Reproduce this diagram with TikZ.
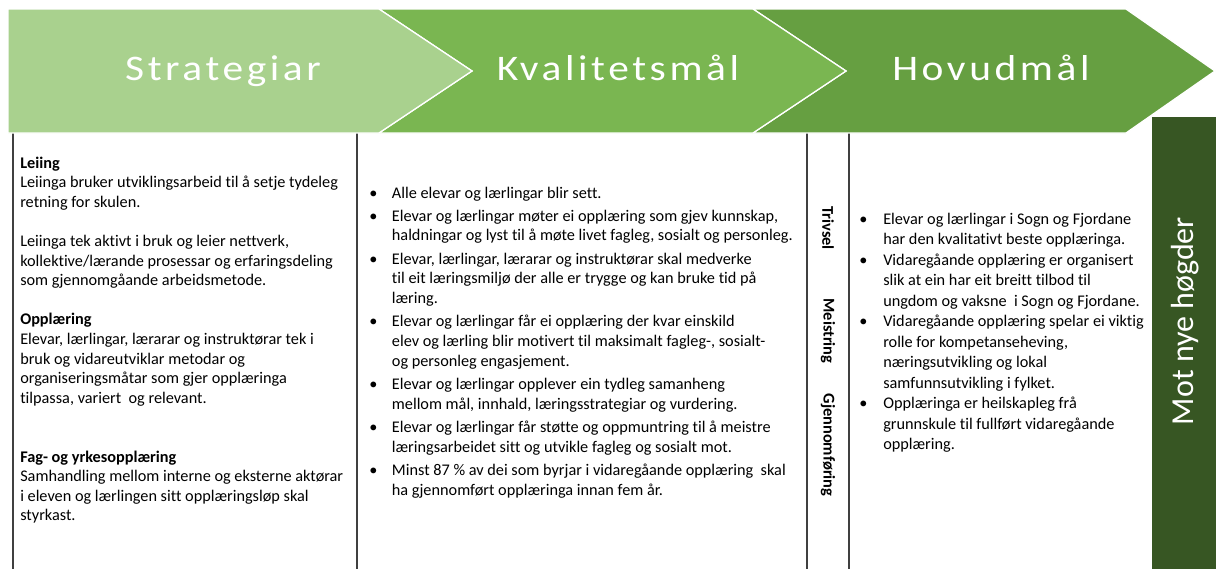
\documentclass[tikz,border=0pt]{standalone}
\usepackage{fontspec}
\setmainfont{Carlito}[Ligatures=NoCommon]
\newfontfamily\headfont{Carlito}[FakeStretch=1.15,LetterSpace=10,Ligatures=NoCommon]
\definecolor{stratgreen}{HTML}{A9D18E}
\definecolor{kvalgreen}{HTML}{7AB651}
\definecolor{hovudgreen}{HTML}{669F41}
\definecolor{motgreen}{HTML}{375623}
\definecolor{linegray}{HTML}{404040}

\begin{document}
\begin{tikzpicture}[x=0.75pt,y=-0.75pt,
    chevron/.style={draw=white,line width=1pt},
    headtext/.style={text=white,anchor=base,inner sep=0pt,font=\headfont\fontsize{27}{32}\selectfont},
    bodytext/.style={anchor=base west,inner sep=0pt},
    sidetext/.style={rotate=-90,inner sep=0pt,font=\bfseries\fontsize{12.3}{14}\selectfont},
    colline/.style={draw=linegray,line width=1.1pt}]
  \useasboundingbox (0,0) rectangle (1216,569);
  \fill[motgreen] (1152,117) rectangle (1216,569);
  \draw[colline] (13,125) -- (13,569);
  \draw[colline] (357,125) -- (357,569);
  \draw[colline] (807,125) -- (807,569);
  \draw[colline] (849,125) -- (849,569);
  \draw[chevron,fill=hovudgreen] (753,9) -- (1126,9) -- (1215,71) -- (1126,133) -- (753,133) -- (846,71) -- cycle;
  \draw[chevron,fill=kvalgreen] (379,9) -- (753,9) -- (846,71) -- (753,133) -- (379,133) -- (472,71) -- cycle;
  \draw[chevron,fill=stratgreen] (8,9) -- (379,9) -- (472,71) -- (379,133) -- (8,133) -- cycle;
  \node[headtext] (strat) at (223,80) {Strategiar};
  \node[headtext] (kval) at (618,80) {Kvalitetsmål};
  \node[headtext] (hovud) at (991,80) {Hovudmål};
  \node[text=white,rotate=90,anchor=base,inner sep=0pt,font=\fontsize{24}{28}\selectfont] (mot) at (1193,321) {Mot nye høgder};
  \node[sidetext] (trivsel) at (828,228) {Trivsel};
  \node[sidetext] (meistring) at (828,331) {Meistring};
  \node[sidetext] (gjennom) at (828,445) {Gjennomføring};
  \node[bodytext,font=\fontsize{12.2}{14.7}\selectfont] (strategies) at (20,168) {\begin{tabular}[t]{@{}l@{}}
    \textbf{Leiing}\\
    Leiinga bruker utviklingsarbeid til å setje tydeleg\\
    retning for skulen.\\
    \\
    Leiinga tek aktivt i bruk og leier nettverk,\\
    kollektive/lærande prosessar og erfaringsdeling\\
    som gjennomgåande arbeidsmetode.\\
    \\
    \textbf{Opplæring}\\
    Elevar, lærlingar, lærarar og instruktørar tek i\\
    bruk og vidareutviklar metodar og\\
    organiseringsmåtar som gjer opplæringa\\
    tilpassa, variert\ \ og relevant.\\
    \\
    \\
    \textbf{Fag- og yrkesopplæring}\\
    Samhandling mellom interne og eksterne aktørar\\
    i eleven og lærlingen sitt opplæringsløp skal\\
    styrkast.
  \end{tabular}};
  \node[bodytext,font=\fontsize{12.2}{14.8}\selectfont] (quality) at (369,198) {\begin{tabular}[t]{@{}p{17pt}@{}l@{}}
    \textbullet & Alle elevar og lærlingar blir sett.\\[2.6pt]
    \textbullet & Elevar og lærlingar møter ei opplæring som gjev kunnskap,\\
    & haldningar og lyst til å møte livet fagleg, sosialt og personleg.\\[2.6pt]
    \textbullet & Elevar, lærlingar, lærarar og instruktørar skal medverke\\
    & til eit læringsmiljø der alle er trygge og kan bruke tid på\\
    & læring.\\[2.6pt]
    \textbullet & Elevar og lærlingar får ei opplæring der kvar einskild\\
    & elev og lærling blir motivert til maksimalt fagleg-, sosialt-\\
    & og personleg engasjement.\\[2.6pt]
    \textbullet & Elevar og lærlingar opplever ein tydleg samanheng\\
    & mellom mål, innhald, læringsstrategiar og vurdering.\\[2.6pt]
    \textbullet & Elevar og lærlingar får støtte og oppmuntring til å meistre\\
    & læringsarbeidet sitt og utvikle fagleg og sosialt mot.\\[2.6pt]
    \textbullet & Minst 87 \% av dei som byrjar i vidaregåande opplæring\ \ skal\\
    & ha gjennomført opplæringa innan fem år.
  \end{tabular}};
  \node[bodytext,font=\fontsize{12.2}{15.4}\selectfont] (maingoals) at (859,224) {\begin{tabular}[t]{@{}p{18pt}@{}l@{}}
    \textbullet & Elevar og lærlingar i Sogn og Fjordane\\
    & har den kvalitativt beste opplæringa.\\
    \textbullet & Vidaregåande opplæring er organisert\\
    & slik at ein har eit breitt tilbod til\\
    & ungdom og vaksne\ \ i Sogn og Fjordane.\\
    \textbullet & Vidaregåande opplæring spelar ei viktig\\
    & rolle for kompetanseheving,\\
    & næringsutvikling og lokal\\
    & samfunnsutvikling i fylket.\\
    \textbullet & Opplæringa er heilskapleg frå\\
    & grunnskule til fullført vidaregåande\\
    & opplæring.
  \end{tabular}};
\end{tikzpicture}
\end{document}
